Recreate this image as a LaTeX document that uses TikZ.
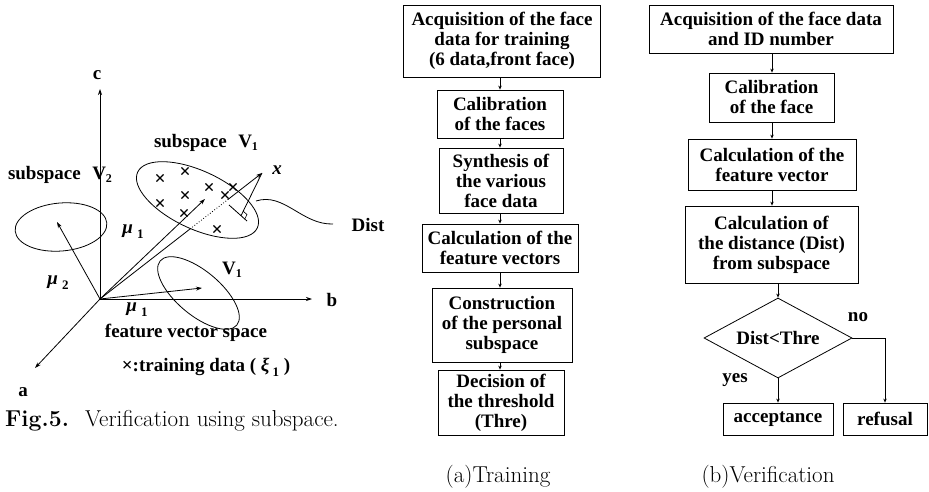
\documentclass[tikz,border=0pt]{standalone}
\usepackage{fontspec}
\newfontfamily\tms{Liberation Serif}
\usetikzlibrary{shapes.geometric,shapes.misc,arrows.meta,calc}
\begin{document}
\begin{tikzpicture}[x=1pt,y=-1pt,
  lbl/.style={font=\tms\bfseries\fontsize{19}{20}\selectfont, inner sep=0pt},
  box/.style={draw, line width=0.8pt, align=center, inner sep=0pt, font=\tms\bfseries\fontsize{19}{20}\selectfont},
  arr/.style={line width=0.8pt, -{Stealth[length=4pt,width=3.5pt]}},
  axisline/.style={line width=0.8pt, -{Stealth[length=6pt,width=4pt]}},
  thin line/.style={line width=0.8pt},
  oval/.style={draw, ellipse, line width=0.8pt, inner sep=0pt},
  xmark/.style={draw, cross out, line width=1.1pt, minimum size=6pt, inner sep=0pt},
  captxt/.style={font=\fontsize{23}{26}\selectfont, inner sep=0pt}
]
\useasboundingbox (0,0) rectangle (929,492);

% ---------------- left: feature vector space ----------------
\coordinate (O) at (100,299);
\coordinate (cEnd) at (100,89);
\coordinate (bEnd) at (312,299);
\coordinate (aEnd) at (35,368);
\draw[axisline] (O) -- (cEnd);
\draw[axisline] (O) -- (bEnd);
\draw[axisline] (O) -- (aEnd);
\node[lbl] (lc) at (97,75) {c};
\node[lbl] (lb) at (332,300) {b};
\node[lbl] (la) at (23,392) {a};

\node[oval, minimum width=92pt, minimum height=48pt, rotate=5] (e2) at (61,227) {};
\node[oval, minimum width=132pt, minimum height=58pt, rotate=-25] (e1) at (197.5,200) {};
\node[oval, minimum width=100pt, minimum height=44pt, rotate=-40] (e3) at (198.5,293) {};

\coordinate (m2) at (57,222);
\coordinate (m1) at (205,199);
\coordinate (m1b) at (202,288);
\coordinate (X) at (262,173);
\draw[axisline] (O) -- (m2);
\draw[axisline] (O) -- (m1);
\draw[axisline] (O) -- (m1b);
\coordinate (p1) at ($(O)!0.556!(X)$);
\coordinate (p2) at ($(O)!0.79!(X)$);
\draw[thin line] (O) -- (p1);
\draw[thin line, dotted] (p1) -- (p2);
\draw[axisline] (p2) -- (X);

% perpendicular to subspace
\coordinate (sA) at (229,205);
\coordinate (sB) at (247,221);
\coordinate (F) at (241,215.7);
\draw[thin line] (sA) -- (sB);
\draw[thin line] (X) -- (F);
\coordinate (ra) at ($(F)!5pt!(sB)$);
\coordinate (rb) at ($(F)!5pt!(X)$);
\draw[line width=0.6pt] (ra) -- ($(ra)+(rb)-(F)$) -- (rb);

% crosses (training data)
\foreach \p [count=\i] in {(160,178),(185,171),(209,187),(233,187),(225,195),(185,195),(160,203),(184,213),(217,229)}
  \node[xmark] (cr\i) at \p {};

% Dist curve
\coordinate (ds) at (256,201);
\coordinate (de) at (333,224);
\draw[thin line] (ds) .. controls (284,192) and (302,225) .. (de);
\node[lbl] (dist) at (368,225) {Dist};

% labels
\node[lbl] (sv1) at (206,143) {subspace\hspace{0.6em}V\raisebox{-3pt}{\fontsize{12}{12}\selectfont 1}};
\node[lbl] (sv2) at (60,175) {subspace\hspace{0.6em}V\raisebox{-3pt}{\fontsize{12}{12}\selectfont 2}};
\node[lbl] (xl) at (277,170) {\itshape x};
\node[lbl] (mu1a) at (133,232) {{\itshape μ}\hspace{4pt}\raisebox{-5pt}{\fontsize{13}{13}\selectfont 1}};
\node[lbl] (mu2) at (58,283) {{\itshape μ}\hspace{4pt}\raisebox{-5pt}{\fontsize{13}{13}\selectfont 2}};
\node[lbl] (mu1b) at (137,310) {{\itshape μ}\hspace{4pt}\raisebox{-5pt}{\fontsize{13}{13}\selectfont 1}};
\node[lbl] (v1b) at (232,270) {V\raisebox{-3pt}{\fontsize{12}{12}\selectfont 1}};
\node[lbl] (fvs) at (186,333) {feature vector space};
\node[lbl] (td) at (206,367) {×:training data ( {\itshape ξ}\hspace{3pt}\raisebox{-5pt}{\fontsize{13}{13}\selectfont 1} )};

\node[captxt, anchor=west] (fig) at (5,421) {\textbf{Fig.5.}\hspace{0.7em}Verification using subspace.};

% ---------------- (a) Training ----------------
\node[box, minimum width=197pt, minimum height=72pt] (t1) at (502,41) {Acquisition of the face\\data for training\\(6 data,front face)};
\node[box, minimum width=126pt, minimum height=48pt] (t2) at (500,114) {Calibration\\of the faces};
\node[box, minimum width=124pt, minimum height=65pt] (t3) at (501,180.5) {Synthesis of\\the various\\face data};
\node[box, minimum width=156pt, minimum height=48pt] (t4) at (500,248) {Calculation of the\\feature vectors};
\node[box, minimum width=140pt, minimum height=74pt] (t5) at (502,325) {Construction\\of the personal\\subspace};
\node[box, minimum width=126pt, minimum height=65pt] (t6) at (501,402.5) {Decision of\\the threshold\\(Thre)};
\coordinate (tx) at (500,0);
\draw[arr] (t1.south -| tx) -- (t2.north -| tx);
\draw[arr] (t2.south -| tx) -- (t3.north -| tx);
\draw[arr] (t3.south -| tx) -- (t4.north -| tx);
\draw[arr] (t4.south -| tx) -- (t5.north -| tx);
\draw[arr] (t5.south -| tx) -- (t6.north -| tx);
\node[captxt] (capa) at (498,477) {(a)Training};

% ---------------- (b) Verification ----------------
\node[box, minimum width=244pt, minimum height=48pt] (v1) at (771,29) {Acquisition of the face data\\and ID number};
\node[box, minimum width=125pt, minimum height=49pt] (v2) at (771.5,97.5) {Calibration\\of the face};
\node[box, minimum width=168pt, minimum height=51pt] (v3) at (772,164.5) {Calculation of the\\feature vector};
\node[box, minimum width=173pt, minimum height=77pt] (v4) at (771.5,244.5) {Calculation of\\the distance (Dist)\\from subspace};
\node[draw, diamond, aspect=1.85, minimum width=148pt, minimum height=80pt, inner sep=0pt, line width=0.8pt, font=\tms\bfseries\fontsize{19}{20}\selectfont] (dd) at (778,338) {Dist<Thre};
\node[box, minimum width=110pt, minimum height=32pt] (acc) at (778,419) {acceptance};
\node[box, minimum width=84pt, minimum height=32pt] (ref) at (885,419) {refusal};
\coordinate (vx) at (772,0);
\draw[arr] (v1.south -| vx) -- (v2.north -| vx);
\draw[arr] (v2.south -| vx) -- (v3.north -| vx);
\draw[arr] (v3.south -| vx) -- (v4.north -| vx);
\draw[arr] (v4.south -| dd.north) -- (dd.north);
\draw[arr] (dd.south) -- (acc.north);
\draw[arr] (dd.east) -| (ref.north);
\node[lbl] (yes) at (735,380) {yes};
\node[lbl] (no) at (858,317) {no};
\node[captxt] (capb) at (768,477) {(b)Verification};
\end{tikzpicture}
\end{document}
